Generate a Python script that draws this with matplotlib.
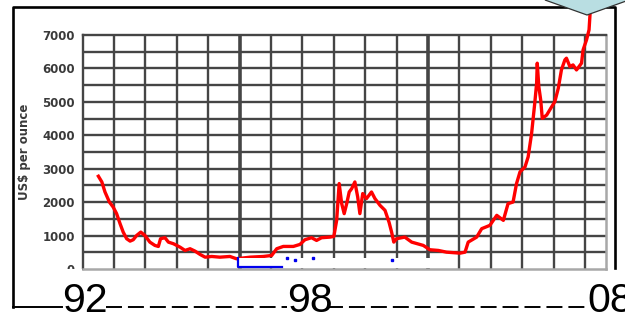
import matplotlib
matplotlib.use("Agg")
from matplotlib import pyplot as plt
from matplotlib.lines import Line2D
from matplotlib.patches import Polygon, Rectangle

plt.rcParams['lines.scale_dashes'] = False

# rhodium price, US$ per ounce
years = [1992.50, 1992.61, 1992.71, 1992.85, 1992.97, 1993.08, 1993.19, 1993.29,
         1993.40, 1993.51, 1993.61, 1993.72, 1993.85, 1993.98, 1994.14, 1994.30,
         1994.41, 1994.48, 1994.62, 1994.73, 1994.89, 1995.10, 1995.26, 1995.42,
         1995.58, 1995.74, 1995.90, 1996.11, 1996.37, 1996.69, 1996.90, 1997.33,
         1997.75, 1998.02, 1998.18, 1998.39, 1998.71, 1998.92, 1999.08, 1999.29,
         1999.45, 1999.61, 1999.88, 2000.00, 2000.09, 2000.17, 2000.25, 2000.33,
         2000.41, 2000.49, 2000.57, 2000.67, 2000.76, 2000.83, 2000.92, 2001.04,
         2001.20, 2001.31, 2001.47, 2001.63, 2001.76, 2001.84, 2001.91, 2002.00,
         2002.26, 2002.48, 2002.85, 2003.06, 2003.33, 2003.59, 2004.02, 2004.18,
         2004.28, 2004.55, 2004.71, 2004.97, 2005.19, 2005.40, 2005.55, 2005.71,
         2005.82, 2005.93, 2006.09, 2006.19, 2006.30, 2006.40, 2006.46, 2006.48,
         2006.53, 2006.59, 2006.64, 2006.78, 2006.94, 2007.04, 2007.15, 2007.25,
         2007.36, 2007.41, 2007.52, 2007.62, 2007.73, 2007.89, 2007.94, 2008.05,
         2008.13, 2008.16]
price = [2775, 2604, 2304, 2004, 1854, 1656, 1356, 1104,
         906, 834, 876, 1005, 1104, 1005, 804, 705,
         675, 906, 936, 804, 756, 654, 555, 606,
         534, 435, 354, 375, 354, 375, 306, 354,
         375, 405, 606, 675, 675, 735, 876, 936,
         855, 936, 954, 975, 1455, 2556, 1956, 1656,
         1956, 2304, 2406, 2604, 2154, 1656, 2256, 2106,
         2304, 2106, 1905, 1755, 1395, 1104, 804, 906,
         954, 804, 705, 576, 555, 504, 474, 504,
         804, 954, 1206, 1305, 1605, 1455, 1956, 2004,
         2556, 2904, 3054, 3354, 4056, 4956, 5556, 6156,
         5454, 5055, 4506, 4605, 4854, 5004, 5406, 5955,
         6255, 6306, 6054, 6105, 5955, 6156, 6555, 6855,
         7155, 7605]

ytick_vals = [0, 1000, 2000, 3000, 4000, 5000, 6000, 7000]
year_labels = ['92', '98', '08']

W, H = 625, 315


def px(x, y):
    return x / W, 1 - y / H


fig = plt.figure(figsize=(6.25, 3.15), dpi=100)
ax = fig.add_axes([82.7 / W, 1 - 269 / H, (606 - 82.7) / W, (269 - 35) / H])

grid_c = '#454545'
ax.set_xlim(1992, 2008.67)
ax.set_ylim(0, 7000)
for yr in range(1993, 2009):
    ax.axvline(yr, color=grid_c, lw=2.6 if yr in (1997, 2003) else 1.7, zorder=1)
for v in range(500, 7000, 500):
    ax.axhline(v, color=grid_c, lw=1.7, zorder=1)

ax.plot(years, price, color='#ff0000', lw=2.4, zorder=3, clip_on=False)

ax.set_xticks([])
ax.set_yticks(ytick_vals)
ax.set_yticklabels([str(v) for v in ytick_vals], fontsize=8.5, fontweight='bold',
                   color='#3a3a3a')
ax.tick_params(axis='y', length=0, pad=5.5)
for s in ['left', 'top']:
    ax.spines[s].set_color(grid_c)
    ax.spines[s].set_linewidth(1.7)
for s in ['bottom', 'right']:
    ax.spines[s].set_color('#a8a8a8')
    ax.spines[s].set_linewidth(1.8)

fig.text(*px(25, 152), 'US$ per ounce', rotation=90, ha='center', va='center',
         fontsize=8.5, fontweight='bold', color='#3a3a3a')

# white patches laid over the lower edge
fig.patches.append(Rectangle(px(237, 267.7), 198 / W, 10 / H, transform=fig.transFigure,
                             facecolor='white', edgecolor='none', zorder=5))
fig.patches.append(Rectangle(px(15, 279), 67 / W, 10.5 / H, transform=fig.transFigure,
                             facecolor='white', edgecolor='none', zorder=5))
bx, by = zip(*[px(237.5, 258), px(237.5, 266.5), px(282, 266.5)])
fig.lines.append(Line2D(bx, by, transform=fig.transFigure, color='#0000ee', lw=1.6,
                        zorder=6))
dx, dy = zip(*[px(287, 257.5), px(295, 260), px(313, 257.5), px(392, 260)])
fig.lines.append(Line2D(dx, dy, transform=fig.transFigure, color='#0000ee', ls='none',
                        marker='s', ms=1.6, zorder=6))

# frame
fx, fy = zip(*[px(13, 307), px(13, 7), px(615, 7), px(615, 268)])
fig.lines.append(Line2D(fx, fy, transform=fig.transFigure, color='black', lw=1.9,
                        zorder=6))
sx, sy = zip(*[px(13, 307), px(62, 307)])
fig.lines.append(Line2D(sx, sy, transform=fig.transFigure, color='black', lw=1.4))
for x0, x1 in [(106, 287), (327, 587)]:
    lx, ly = zip(*[px(x0, 307), px(x1, 307)])
    fig.lines.append(Line2D(lx, ly, transform=fig.transFigure, color='black', lw=1.4,
                            dashes=(11.5, 4.3)))

for lab, x in zip(year_labels, [62, 287, 587]):
    fig.text(*px(x, 312.5), lab, ha='left', va='baseline', fontsize=29.5,
             family=['Liberation Sans', 'DejaVu Sans'], color='black')

# callout corner
diamond = [px(545, 0), px(587, 15), px(629, 0), px(587, -15)]
fig.patches.append(Polygon(diamond, closed=True, transform=fig.transFigure,
                           facecolor='#b9dee2', edgecolor='#333333', lw=0.9, zorder=7))

fig.savefig('out.png', dpi=100)
